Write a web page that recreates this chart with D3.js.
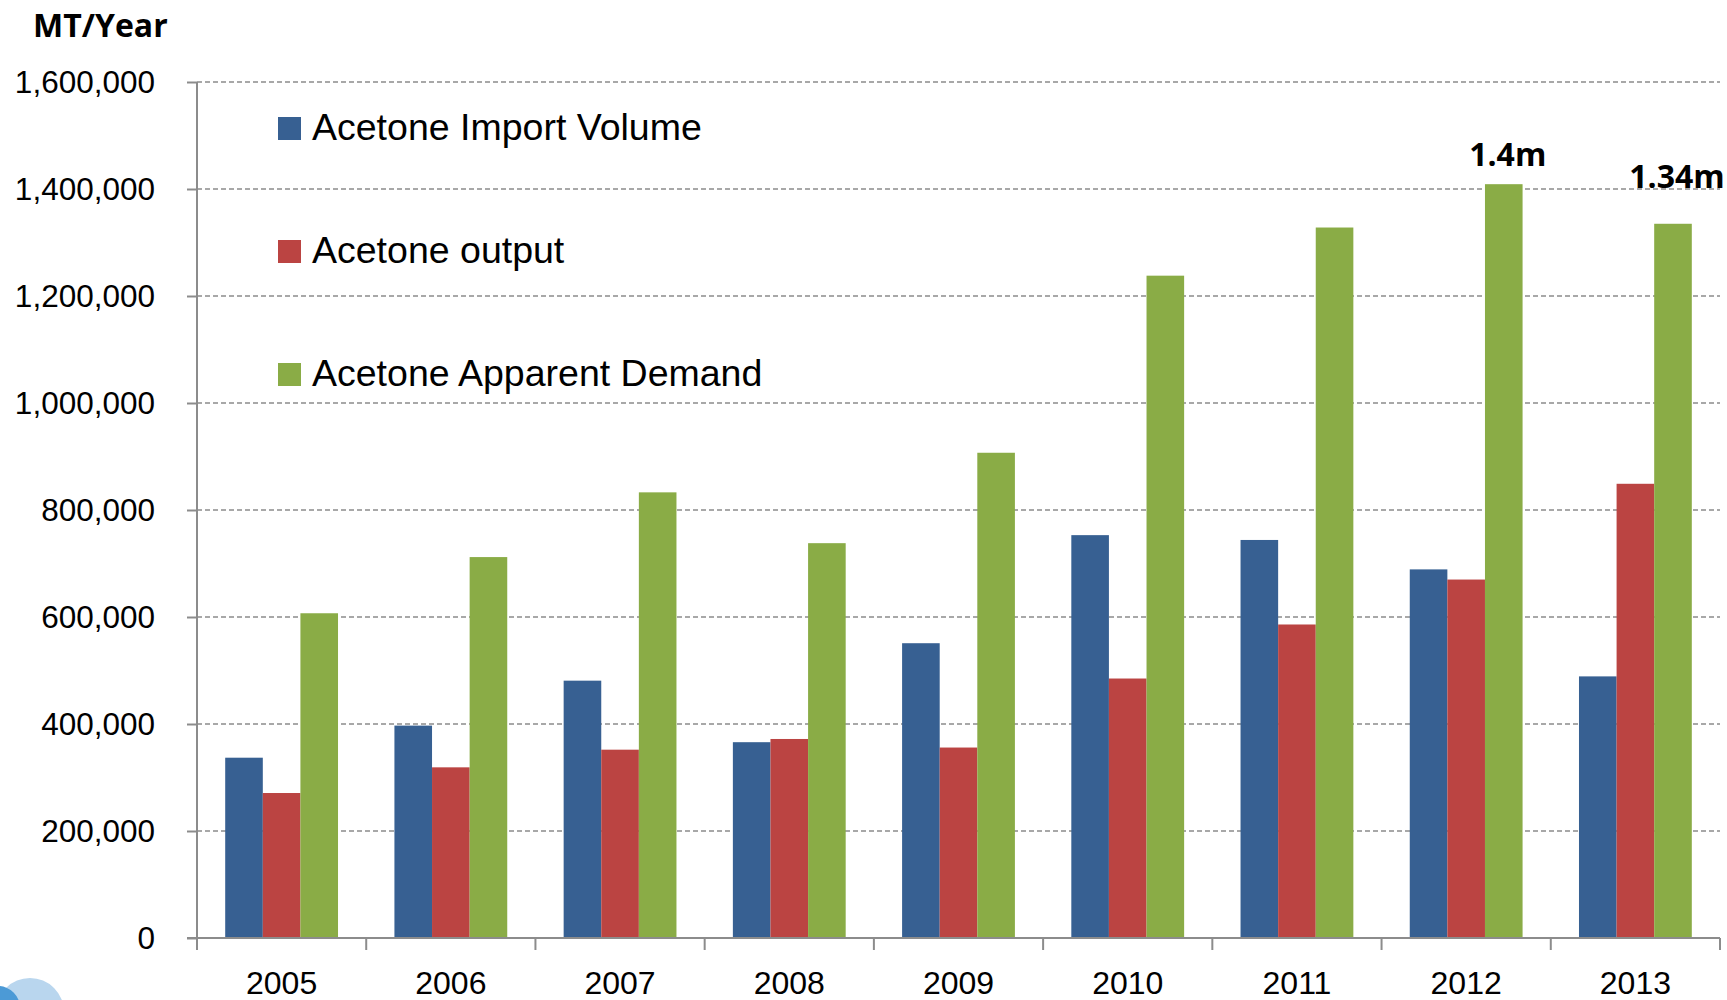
<!DOCTYPE html>
<html>
<head>
<meta charset="utf-8">
<script src="https://cdn.jsdelivr.net/npm/d3@7"></script>
<style>
  body { margin: 0; background: #fff; }
  svg { display: block; }
</style>
</head>
<body>
<div id="chart"></div>
<script>
// values (MT/Year)
var years = ["2005", "2006", "2007", "2008", "2009", "2010", "2011", "2012", "2013"];
var importVolume = [337000, 397000, 481000, 366000, 551000, 753000, 744000, 689000, 489000];
var output = [271000, 319000, 352000, 372000, 356000, 485000, 586000, 670000, 849000];
var demand = [607000, 712000, 833000, 738000, 907000, 1238000, 1328000, 1409000, 1335000];
var seriesNames = ["Acetone Import Volume", "Acetone output", "Acetone Apparent Demand"];
var yTicks = [0, 200000, 400000, 600000, 800000, 1000000, 1200000, 1400000, 1600000];
var noteYears = ["2012", "2013"];
var noteTexts = ["1.4m", "1.34m"];

var colors = ["#376092", "#bb4442", "#8aac46"];
var series = [importVolume, output, demand];

var w = 1727, h = 1000;
var plotLeft = 197, plotRight = 1720, plotTop = 82, plotBottom = 938;

var svg = d3.select("#chart").append("svg")
  .attr("width", w).attr("height", h);

var x = d3.scaleBand()
  .domain(years)
  .range([plotLeft, plotRight])
  .paddingInner(1 / 3)
  .paddingOuter(1 / 6);

var x1 = d3.scaleBand()
  .domain(d3.range(series.length))
  .range([0, x.bandwidth()]);

var y = d3.scaleLinear()
  .domain([0, 1600000])
  .range([plotBottom, plotTop]);

// dashed gridlines
svg.append("g")
  .selectAll("line")
  .data(yTicks.filter(d => d > 0))
  .enter()
  .append("line")
  .attr("x1", plotLeft).attr("x2", plotRight)
  .attr("y1", d => y(d)).attr("y2", d => y(d))
  .attr("stroke", "#8c8c8c")
  .attr("stroke-width", 1.5)
  .attr("stroke-dasharray", "5,3");

// bars
var groups = svg.append("g")
  .selectAll("g")
  .data(years)
  .enter()
  .append("g")
  .attr("transform", d => "translate(" + x(d) + ",0)");

groups.selectAll("rect")
  .data((d, i) => series.map((s, j) => ({ k: j, v: s[i] })))
  .enter()
  .append("rect")
  .attr("x", d => x1(d.k))
  .attr("y", d => y(d.v))
  .attr("width", x1.bandwidth())
  .attr("height", d => y(0) - y(d.v))
  .attr("fill", d => colors[d.k]);

// y axis
var yAxis = svg.append("g")
  .attr("transform", "translate(" + plotLeft + ",0)")
  .call(d3.axisLeft(y).tickValues(yTicks).tickFormat(d3.format(",")).tickSize(10).tickPadding(32));
yAxis.select(".domain").remove();
yAxis.selectAll("line").attr("stroke", "#8c8c8c").attr("stroke-width", 2);
yAxis.selectAll("text")
  .attr("font-family", "'Liberation Sans', Arial, sans-serif")
  .attr("font-size", 31.5)
  .attr("fill", "#000");

// axis lines
svg.append("line")
  .attr("x1", plotLeft).attr("x2", plotLeft)
  .attr("y1", plotTop).attr("y2", plotBottom + 12)
  .attr("stroke", "#8c8c8c").attr("stroke-width", 2);
svg.append("line")
  .attr("x1", plotLeft - 10).attr("x2", plotRight)
  .attr("y1", plotBottom).attr("y2", plotBottom)
  .attr("stroke", "#8c8c8c").attr("stroke-width", 2);

// category boundary ticks
var gap = (x.step() - x.bandwidth()) / 2;
var edges = years.map(d => x(d) + x.bandwidth() + gap);
svg.append("g")
  .selectAll("line")
  .data(edges)
  .enter()
  .append("line")
  .attr("x1", d => d).attr("x2", d => d)
  .attr("y1", plotBottom).attr("y2", plotBottom + 12)
  .attr("stroke", "#8c8c8c").attr("stroke-width", 2);

// x labels
var xAxis = svg.append("g")
  .attr("transform", "translate(0," + plotBottom + ")")
  .call(d3.axisBottom(x).tickSize(0).tickPadding(33));
xAxis.select(".domain").remove();
xAxis.selectAll("text")
  .attr("font-family", "'Liberation Sans', Arial, sans-serif")
  .attr("font-size", 32)
  .attr("fill", "#000");

// unit title
svg.append("text")
  .attr("x", 33).attr("y", 37)
  .attr("font-family", "'Open Sans', sans-serif")
  .attr("font-weight", "bold")
  .attr("font-size", 32)
  .text("MT/Year");

// legend
var legend = svg.append("g")
  .selectAll("g")
  .data(seriesNames)
  .enter()
  .append("g")
  .attr("transform", (d, i) => "translate(278," + (140 + i * 123) + ")");
legend.append("rect")
  .attr("x", 0).attr("y", -23)
  .attr("width", 23).attr("height", 23)
  .attr("fill", (d, i) => colors[i]);
legend.append("text")
  .attr("x", 34).attr("y", 0)
  .attr("font-family", "'Liberation Sans', Arial, sans-serif")
  .attr("font-size", 37.5)
  .text(d => d);

// value notes over the last two demand bars
var noteLift = [18, 36];
svg.append("g")
  .selectAll("text")
  .data(noteYears)
  .enter()
  .append("text")
  .attr("x", d => x(d) + x1(2) + x1.bandwidth() / 2 + 4)
  .attr("y", (d, i) => y(demand[years.indexOf(d)]) - noteLift[i])
  .attr("text-anchor", "middle")
  .attr("font-family", "'Open Sans', sans-serif")
  .attr("font-weight", "bold")
  .attr("font-size", 32)
  .text((d, i) => noteTexts[i]);

// corner of logo, bottom left
svg.append("circle").attr("cx", 30).attr("cy", 1012).attr("r", 34).attr("fill", "#b9d6ee");
svg.append("circle").attr("cx", -2).attr("cy", 1008).attr("r", 22).attr("fill", "#4c9ad6");
</script>
</body>
</html>
